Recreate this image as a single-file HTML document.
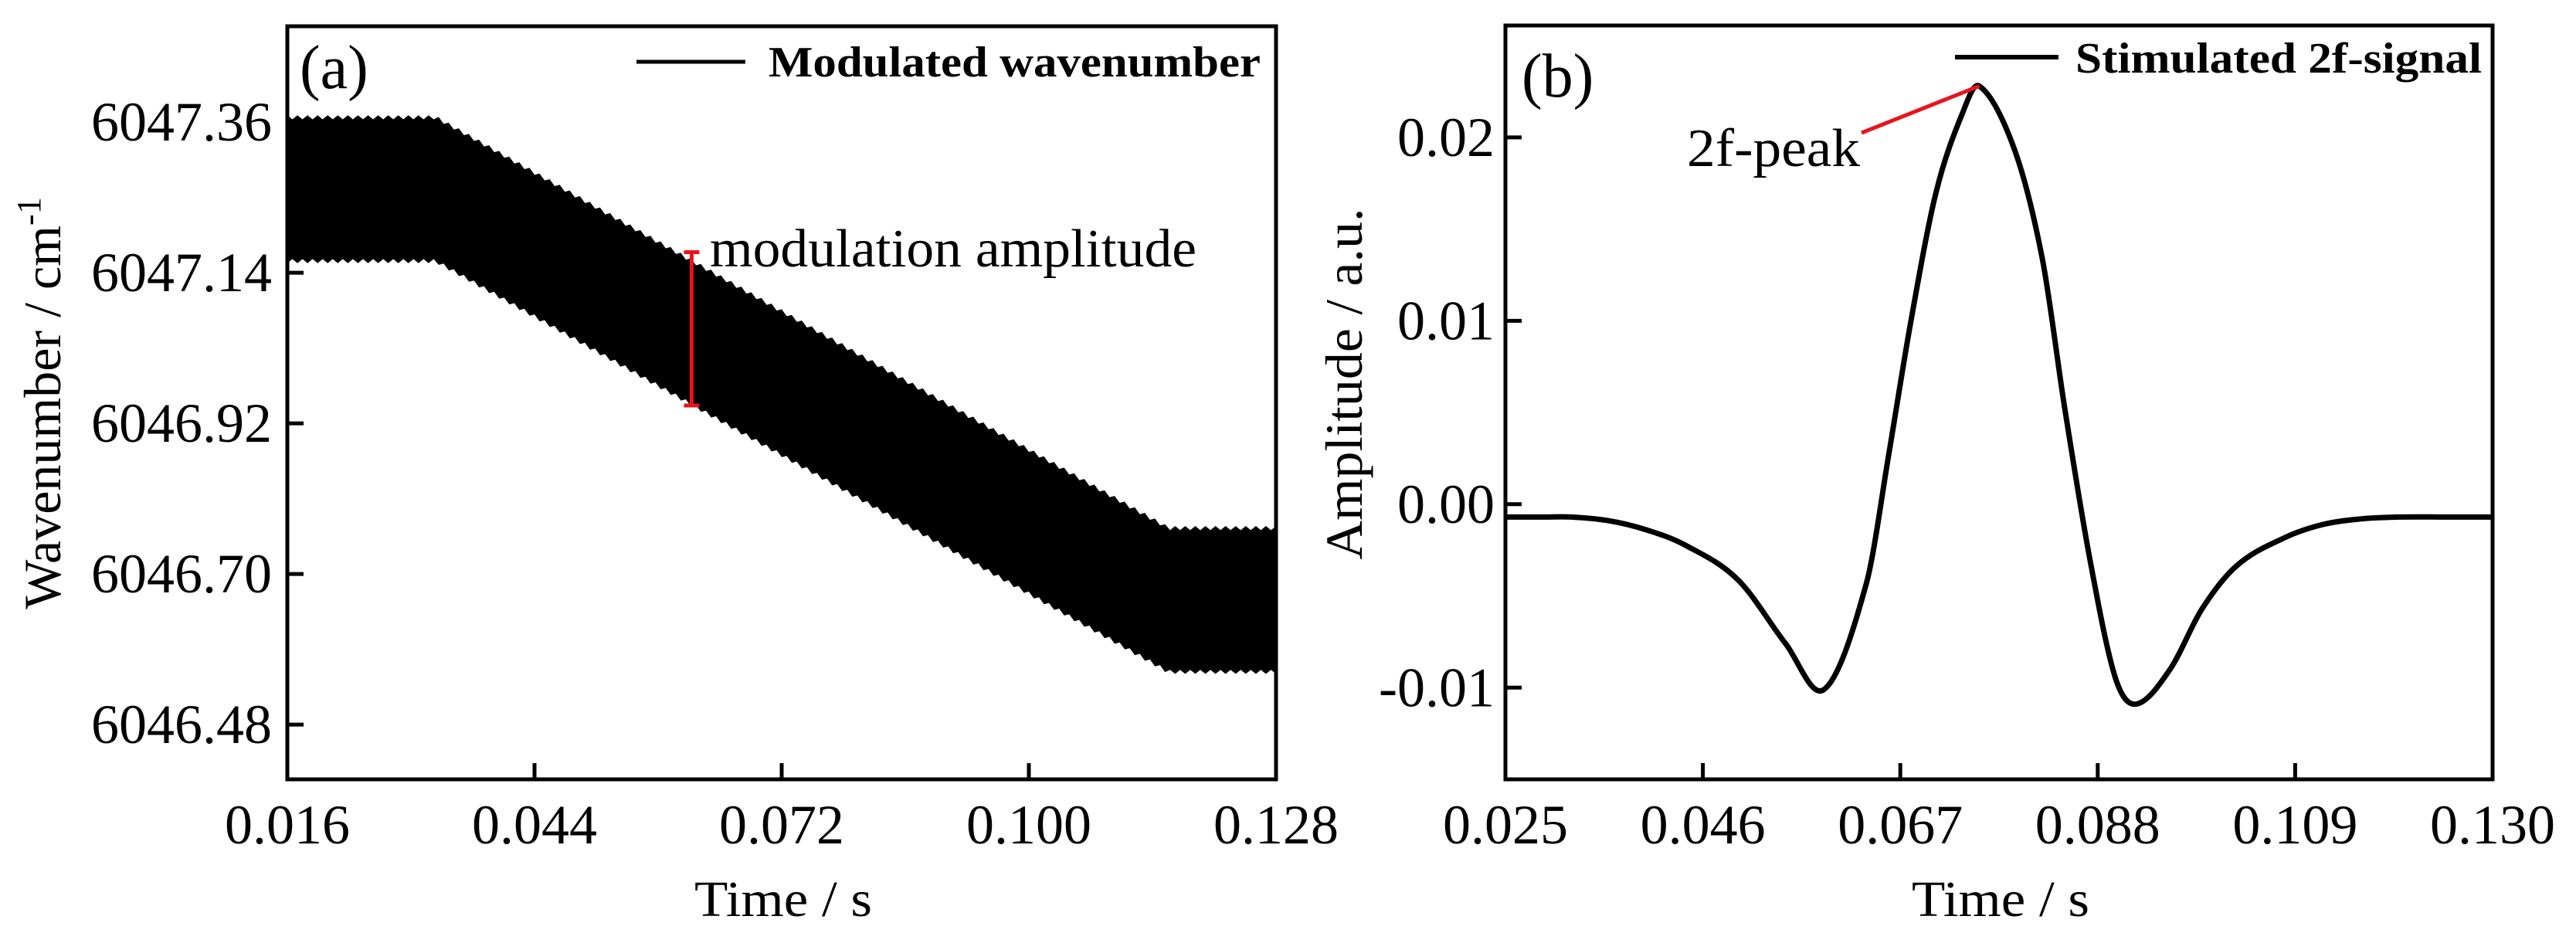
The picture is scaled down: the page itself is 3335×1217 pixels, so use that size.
<!DOCTYPE html>
<html><head><meta charset="utf-8"><style>
html,body{margin:0;padding:0;background:#fff;}
svg{display:block;font-family:"Liberation Serif",serif;}
</style></head><body>
<svg id="fig" width="3335" height="1217" viewBox="0 0 3335 1217" xmlns="http://www.w3.org/2000/svg">
<g id="pa"></g>
<g id="pb"></g>
</svg>
<script>
// Panel (a) data
const aXTicks = [0.016, 0.044, 0.072, 0.100, 0.128];
const aXTickLabels = ["0.016", "0.044", "0.072", "0.100", "0.128"];
const aYTicks = [6046.48, 6046.70, 6046.92, 6047.14, 6047.36];
const aYTickLabels = ["6046.48", "6046.70", "6046.92", "6047.14", "6047.36"];
const aRampTimes = [0.016, 0.0328, 0.1158, 0.128];
const aRampCenters = [6047.262, 6047.262, 6046.662, 6046.662];
const aModAmplitude = [0.108];
const aModPeriod = [0.00114];
const aMarkerTime = [0.0618];
const aMarkerRange = [6046.946, 6047.170];

// Panel (b) data
const bXTicks = [0.025, 0.046, 0.067, 0.088, 0.109, 0.130];
const bXTickLabels = ["0.025", "0.046", "0.067", "0.088", "0.109", "0.130"];
const bYTicks = [-0.01, 0.00, 0.01, 0.02];
const bYTickLabels = ["-0.01", "0.00", "0.01", "0.02"];
const bTimes = [0.025,0.029,0.032,0.036,0.040,0.044,0.0497,0.0548,0.0589,0.0634,0.0658,0.0681,0.0708,0.0736,0.0754,0.0791,0.0821,0.0845,0.0872,0.0899,0.0921,0.0957,0.0991,0.1029,0.108,0.112,0.116,0.120,0.125,0.130];
const bValues = [-0.0007,-0.0007,-0.0007,-0.0009,-0.0014,-0.0022,-0.0041,-0.0076,-0.0101,-0.0043,0.0028,0.0099,0.0170,0.0213,0.0228,0.0194,0.0134,0.0052,-0.0031,-0.0095,-0.0109,-0.0090,-0.0057,-0.0033,-0.0018,-0.0011,-0.0008,-0.0007,-0.0007,-0.0007];
const bPeak = [0.0754, 0.0228];

const NS = "http://www.w3.org/2000/svg";
function mk(parent, tag, attrs, text){
  const e = document.createElementNS(NS, tag);
  for (const k in attrs) e.setAttribute(k, attrs[k]);
  if (text !== undefined) e.textContent = text;
  parent.appendChild(e);
  return e;
}
function lin(d0,d1,r0,r1){ return v => r0 + (v-d0)/(d1-d0)*(r1-r0); }

function frameAxes(g, L, R, T, B, xs, ys, xT, xL, yT, yL, yLabelRight, name){
  let e;
  const xg = mk(g,'g',{});
  
  
  xT.forEach((v,i)=>{
    const x = xs(v);
    e = mk(xg,'line',{x1:x,x2:x,y1:B,y2:B-21,stroke:'#000','stroke-width':5});
    
    
    e = mk(xg,'text',{x:x,y:1092,'text-anchor':'middle','font-size':72},xL[i]);
    
    
  });
  const yg = mk(g,'g',{});
  
  
  yT.forEach((v,i)=>{
    const y = ys(v);
    e = mk(yg,'line',{x1:L,x2:L+21,y1:y,y2:y,stroke:'#000','stroke-width':5});
    
    
    e = mk(yg,'text',{x:yLabelRight,y:y+24,'text-anchor':'end','font-size':72},yL[i]);
    
    
  });
  e = mk(g,'rect',{x:L,y:T,width:R-L,height:B-T,fill:'none',stroke:'#000','stroke-width':5});
  
  
}

// ---------- Panel A ----------
(function(){
  const g = document.getElementById('pa');
  const L=372,R=1652,T=34,B=1009;
  const xs = lin(0.016,0.128,L,R), ys = lin(6046.40,6047.50,B,T);
  let e;
  function center(t){
    for (let i=0;i<aRampTimes.length-1;i++){
      if (t<=aRampTimes[i+1]) {
        const f=(t-aRampTimes[i])/(aRampTimes[i+1]-aRampTimes[i]);
        return aRampCenters[i]+f*(aRampCenters[i+1]-aRampCenters[i]);
      }
    }
    return aRampCenters[aRampCenters.length-1];
  }
  const A = aModAmplitude[0], P = aModPeriod[0];
  const t0 = aRampTimes[0], t1 = aRampTimes[aRampTimes.length-1];
  const up=[], lo=[];
  const N = Math.round((t1-t0)/(P/2));
  for (let i=0;i<=N;i++){
    const t = t0 + (t1-t0)*i/N;
    const tooth = (i%2===0)?0:-0.006;
    up.push(xs(t).toFixed(1)+','+ys(center(t)+A+tooth).toFixed(1));
    lo.push(xs(t).toFixed(1)+','+ys(center(t)-A-tooth).toFixed(1));
  }
  e = mk(g,'polygon',{points:up.concat(lo.reverse()).join(' '),fill:'#000'});
  
  

  frameAxes(g,L,R,T,B,xs,ys,aXTicks,aXTickLabels,aYTicks,aYTickLabels,352,'panel-a');

  const mx = xs(aMarkerTime[0]), my0 = ys(aMarkerRange[0]), my1 = ys(aMarkerRange[1]);
  const mg = mk(g,'g',{stroke:'#e8141c','stroke-width':5});
  
  
  mk(mg,'line',{x1:mx,x2:mx,y1:my0,y2:my1});
  mk(mg,'line',{x1:mx-10,x2:mx+10,y1:my0,y2:my0});
  mk(mg,'line',{x1:mx-10,x2:mx+10,y1:my1,y2:my1});
  e = mk(g,'text',{x:919,y:345,'font-size':70,textLength:630,lengthAdjust:'spacingAndGlyphs'},'modulation amplitude');
  
  

  e = mk(g,'text',{x:388,y:114,'font-size':80},'(a)');
  
  
  const lg = mk(g,'g',{});
  
  
  mk(lg,'line',{x1:824,x2:965,y1:80,y2:80,stroke:'#000','stroke-width':5});
  mk(lg,'text',{x:995,y:99,'font-size':56,'font-weight':'bold',textLength:637,lengthAdjust:'spacingAndGlyphs'},'Modulated wavenumber');

  e = mk(g,'text',{x:1014,y:1186,'text-anchor':'middle','font-size':66,textLength:230,lengthAdjust:'spacingAndGlyphs'},'Time / s');
  
  
  const yt = mk(g,'text',{transform:'translate(78,522) rotate(-90)','text-anchor':'middle','font-size':68});
  
  
  yt.appendChild(document.createTextNode('Wavenumber / cm'));
  mk(yt,'tspan',{dy:-26,'font-size':44},'-1');
})();

// ---------- Panel B ----------
(function(){
  const g = document.getElementById('pb');
  const L=1949,R=3227,T=33,B=1009;
  const xs = lin(0.025,0.130,L,R), ys = lin(-0.0150,0.0261,B,T);
  let e;
  frameAxes(g,L,R,T,B,xs,ys,bXTicks,bXTickLabels,bYTicks,bYTickLabels,1935,'panel-b');
  // monotone-ish smooth path (Catmull-Rom, non-uniform scaled tangents)
  const pts = bTimes.map((t,i)=>[xs(t),ys(bValues[i])]);
  const n = pts.length;
  const m = pts.map((p,i)=>{
    if (i===0 || i===n-1) return 0;
    const a=pts[i-1], b=pts[i+1];
    return (b[1]-a[1])/(b[0]-a[0]);
  });
  let d = 'M'+pts[0][0].toFixed(1)+','+pts[0][1].toFixed(1);
  for (let i=0;i<n-1;i++){
    const p1=pts[i],p2=pts[i+1],h=(p2[0]-p1[0])/3;
    const c1=[p1[0]+h,p1[1]+m[i]*h];
    const c2=[p2[0]-h,p2[1]-m[i+1]*h];
    d+=' C'+c1.map(v=>v.toFixed(1)).join(',')+' '+c2.map(v=>v.toFixed(1)).join(',')+' '+p2.map(v=>v.toFixed(1)).join(',');
  }
  e = mk(g,'path',{d:d,fill:'none',stroke:'#000','stroke-width':7,'stroke-linejoin':'round'});
  
  

  const px = xs(bPeak[0]), py = ys(bPeak[1]);
  e = mk(g,'line',{x1:2410,y1:172,x2:px,y2:py,stroke:'#e8141c','stroke-width':5});
  
  
  e = mk(g,'text',{x:2184,y:215,'font-size':70,textLength:224,lengthAdjust:'spacingAndGlyphs'},'2f-peak');
  
  

  e = mk(g,'text',{x:1970,y:125,'font-size':80},'(b)');
  
  
  const lg = mk(g,'g',{});
  
  
  mk(lg,'line',{x1:2531,x2:2665,y1:74,y2:74,stroke:'#000','stroke-width':6});
  mk(lg,'text',{x:2687,y:94,'font-size':56,'font-weight':'bold',textLength:526,lengthAdjust:'spacingAndGlyphs'},'Stimulated 2f-signal');

  e = mk(g,'text',{x:2590,y:1186,'text-anchor':'middle','font-size':66,textLength:230,lengthAdjust:'spacingAndGlyphs'},'Time / s');
  
  
  e = mk(g,'text',{transform:'translate(1763,497) rotate(-90)','text-anchor':'middle','font-size':68,textLength:455,lengthAdjust:'spacingAndGlyphs'},'Amplitude / a.u.');
  
  
})();
</script>
</body></html>
